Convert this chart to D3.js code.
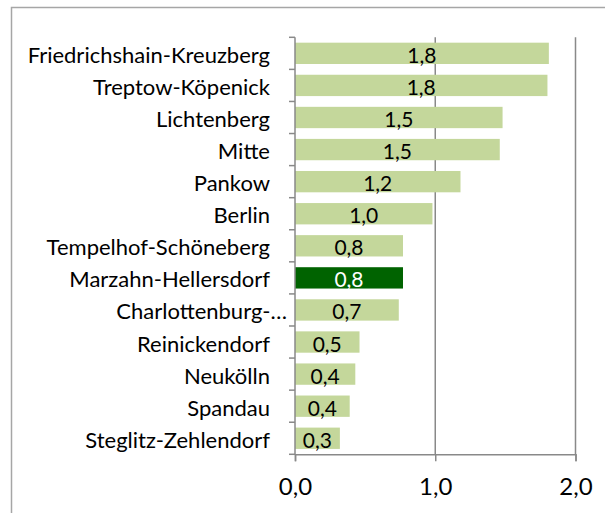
<!DOCTYPE html>
<html><head><meta charset="utf-8">
<script src="https://cdn.jsdelivr.net/npm/d3@7"></script>
<style>body{margin:0;background:#fff;}svg{display:block;}</style>
</head><body>
<script>
const categories = ["Friedrichshain-Kreuzberg","Treptow-Köpenick","Lichtenberg","Mitte","Pankow","Berlin","Tempelhof-Schöneberg","Marzahn-Hellersdorf","Charlottenburg-…","Reinickendorf","Neukölln","Spandau","Steglitz-Zehlendorf"];
const values = [1.81, 1.80, 1.48, 1.46, 1.18, 0.98, 0.77, 0.77, 0.74, 0.46, 0.43, 0.39, 0.32];
const highlighted = ["Marzahn-Hellersdorf"];
const xTicks = [0, 1, 2];

const W = 605, H = 513;
const fmt = v => d3.format(".1f")(v).replace(".", ",");
const svg = d3.select("body").append("svg").attr("width", W).attr("height", H);
const data = categories.map((c, i) => ({c, v: values[i]}));
const font = "Lato, 'Open Sans', sans-serif";

// chart border
svg.append("path").attr("d", "M11.5,513 V7.5 H605").attr("fill", "none").attr("stroke", "#a6a6a6").attr("stroke-width", 1.5);

const x = d3.scaleLinear().domain([0, 2]).range([295, 575.5]);
const y = d3.scaleBand().domain(categories).range([37.3, 454.3]).paddingInner(0.335).paddingOuter(0.1675);
const axisColor = "#898989";

// gridlines
svg.append("g").selectAll("line").data(xTicks.slice(1)).join("line")
  .attr("x1", d => x(d)).attr("x2", d => x(d)).attr("y1", 37.3).attr("y2", 454.3)
  .attr("stroke", axisColor).attr("stroke-width", 1.5);

// bars
svg.append("g").selectAll("rect").data(data).join("rect")
  .attr("x", x(0)).attr("y", d => y(d.c)).attr("width", d => x(d.v) - x(0)).attr("height", y.bandwidth())
  .attr("fill", d => highlighted.includes(d.c) ? "#006300" : "#c4d79b");

// value labels
svg.append("g").selectAll("text").data(data).join("text")
  .attr("x", d => (x(d.v) + x(0)) / 2).attr("y", d => y(d.c) + y.bandwidth() / 2 + 1)
  .attr("text-anchor", "middle").attr("dominant-baseline", "central")
  .attr("font-family", font).attr("font-size", 21)
  .attr("fill", d => highlighted.includes(d.c) ? "#fff" : "#000")
  .text(d => fmt(d.v));

// y axis
const yAxisBand = d3.scaleBand().domain(categories).range([37.3, 454.3]);
const ya = svg.append("g");
ya.append("line").attr("x1", x(0)).attr("x2", x(0)).attr("y1", 37.3).attr("y2", 454.3).attr("stroke", axisColor).attr("stroke-width", 1.5);
ya.selectAll("line.t").data(categories.concat(["end"])).join("line").attr("class", "t")
  .attr("x1", x(0) - 6).attr("x2", x(0))
  .attr("y1", d => d === "end" ? 454.3 : yAxisBand(d)).attr("y2", d => d === "end" ? 454.3 : yAxisBand(d))
  .attr("stroke", axisColor).attr("stroke-width", 1.5);
ya.selectAll("text").data(categories).join("text")
  .attr("x", d => d.endsWith("…") ? 287 : 270)
  .attr("y", d => yAxisBand(d) + yAxisBand.bandwidth() / 2 + 1)
  .attr("text-anchor", "end").attr("dominant-baseline", "central")
  .attr("font-family", font).attr("font-size", 22).attr("fill", "#000")
  .text(d => d);

// x axis
const xa = svg.append("g").attr("transform", "translate(0,454.3)")
  .call(d3.axisBottom(x).tickValues(xTicks).tickSize(7).tickPadding(17).tickFormat(fmt));
xa.select(".domain").attr("stroke", axisColor).attr("stroke-width", 1.5);
xa.selectAll(".tick line").attr("stroke", axisColor).attr("stroke-width", 1.5);
xa.selectAll(".tick text").attr("font-family", font).attr("font-size", 24).attr("fill", "#000");
</script>
</body></html>
